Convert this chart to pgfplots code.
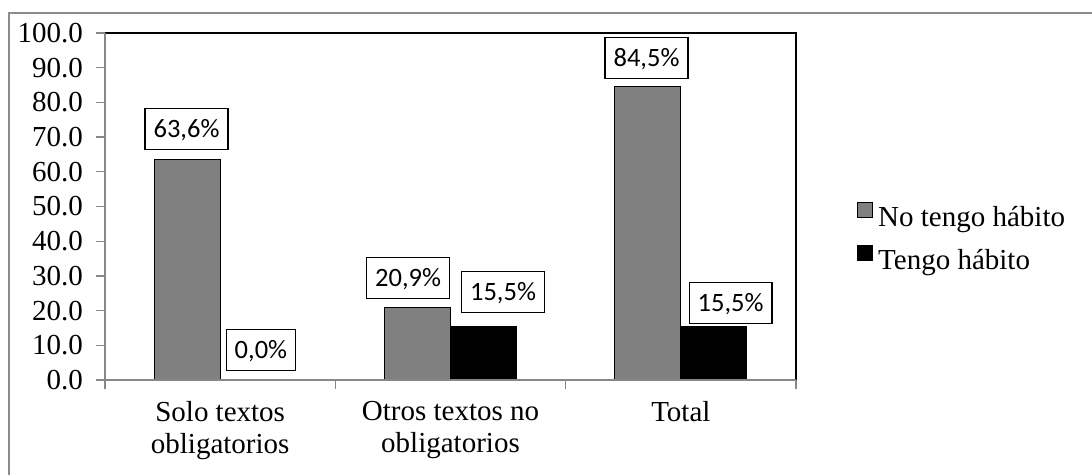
\documentclass[border=0pt]{standalone}
\usepackage{fontspec}
\setmainfont{Liberation Serif}
\newfontfamily\calibri{Carlito}
\usepackage{pgfplots}
\pgfplotsset{compat=1.18}
\usepackage{pgfplotstable}

\definecolor{axgray}{HTML}{878787}
\definecolor{bargray}{HTML}{808080}
\definecolor{framegray}{HTML}{8C8C8C}

\pgfplotstableread{
x y
0 63.6
1 20.9
2 84.5
}\notengo
\pgfplotstableread{
x y
0 0.0
1 15.5
2 15.5
}\tengo
\pgfplotstableread{
x y label
-0.146 66.3 63,6
0.177 2.6 0,0
0.816 23.3 20,9
1.228 19.3 15,5
1.851 86.7 84,5
2.216 16.1 15,5
}\labels

\pgfplotsset{
  mylegend/.style={legend image code/.code={\draw[##1,draw=black,line width=1pt] (0pt,2pt) rectangle (15pt,17pt);}},
}

\begin{document}
\begin{tikzpicture}
\useasboundingbox (0pt,0pt) rectangle (1092pt,474pt);
\fill[white] (0pt,0pt) rectangle (1092pt,474pt);
\draw[framegray, line width=1.3pt] (9pt,-10pt) -- (9pt,461pt) -- (1100pt,461pt);
\begin{axis}[
  at={(105pt,94pt)}, anchor=south west,
  scale only axis, width=691pt, height=347pt,
  xmin=-0.5, xmax=2.5, ymin=0, ymax=100,
  clip=false,
  axis line style={draw=none},
  tick align=outside,
  ytick={0,10,...,100},
  ytick pos=left, xtick pos=bottom,
  major tick length=9pt, minor tick length=9pt,
  tick style={axgray, line width=1.3pt},
  xtick={0,1,2},
  major x tick style={draw=none},
  minor xtick={-0.5,0.5,1.5,2.5},
  xticklabels={{Solo textos\\obligatorios},{Otros textos no\\obligatorios},{Total}},
  xticklabel style={align=center, inner sep=0pt, yshift=-12pt, font=\fontsize{29}{32}\selectfont},
  yticklabel style={inner sep=0pt, xshift=-13pt, font=\fontsize{29}{32}\selectfont,
    /pgf/number format/fixed, /pgf/number format/fixed zerofill, /pgf/number format/precision=1},
  /pgf/number format/assume math mode=true,
  legend style={at={(1.0883,0.406)}, anchor=west, draw=none, fill=none, inner sep=0pt,
    font=\fontsize{29}{32}\selectfont,
    nodes={inner sep=0pt, text height=20pt, text depth=7pt},
    row sep=12pt,
    /tikz/every odd column/.append style={column sep=5pt}},
  legend cell align=left,
]
\addplot[ybar, bar width=0.2866, bar shift=-0.1433, fill=bargray, draw=black, line width=1pt, mylegend] table[x=x,y=y] {\notengo};
\addlegendentry{No tengo hábito}
\addplot[ybar, bar width=0.2866, bar shift=0.1433, fill=black, draw=black, line width=1pt, mylegend] table[x=x,y=y] {\tengo};
\addlegendentry{Tengo hábito}
\addplot[draw=none, mark=none, forget plot, point meta=explicit symbolic,
  nodes near coords={\pgfplotspointmeta\%},
  every node near coord/.append style={anchor=south, font=\calibri\fontsize{26.5}{30}\selectfont,
    draw=black, line width=1.3pt, fill=white, inner xsep=8.5pt, inner ysep=0pt,
    text height=28.85pt, text depth=12.15pt}]
  table[x=x,y=y,meta=label] {\labels};
\draw[black, line width=1.3pt] (rel axis cs:0,1) -- (rel axis cs:1,1) -- (rel axis cs:1,0);
\draw[axgray, line width=1.3pt] (rel axis cs:0,1) -- (rel axis cs:0,0) -- (rel axis cs:1,0);
\end{axis}
\end{tikzpicture}
\end{document}
